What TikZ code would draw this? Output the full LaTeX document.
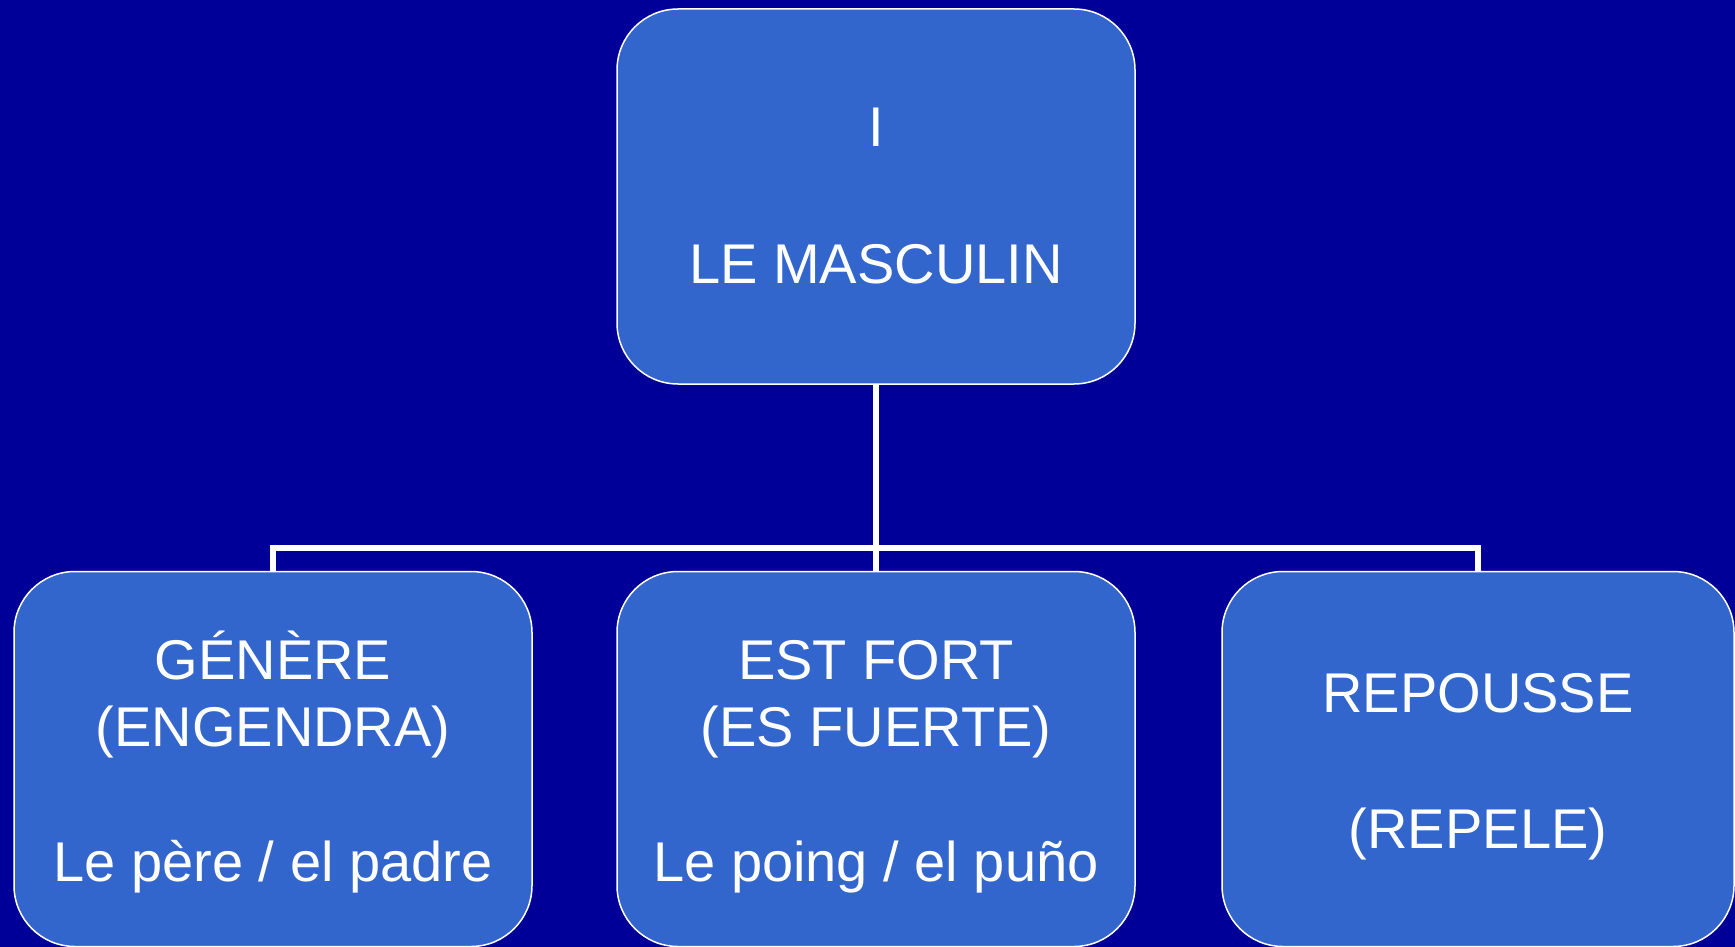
\documentclass[tikz,border=0pt]{standalone}
\usepackage{fontspec}
\setmainfont{Liberation Sans}
\definecolor{bgblue}{RGB}{0,0,153}
\definecolor{boxblue}{RGB}{51,102,204}
\newcommand{\toprule}{\rule{0pt}{54pt}}
\begin{document}
\begin{tikzpicture}[x=1pt,y=1pt,
  box/.style={draw=white, line width=1.5pt, fill=boxblue, rounded corners=61pt,
    minimum width=518pt, minimum height=375pt, inner sep=0pt, text=white,
    align=center, font=\fontsize{56}{67}\selectfont},
  rbox/.style={box, minimum width=512pt},
  conn/.style={draw=white, line width=6pt, line join=miter}]
\useasboundingbox (0,0) rectangle (1735,-947);
\fill[bgblue] (0,0) rectangle (1735,-947);
\node[box] (top) at (876,-196.5) {I\\[70pt]LE MASCULIN};
\node[box] (left) at (273,-759) {\toprule GÉNÈRE\\(ENGENDRA)\\[68pt]Le père / el padre};
\node[box] (mid) at (876,-759) {\toprule EST FORT\\(ES FUERTE)\\[68pt]Le poing / el puño};
\node[rbox] (right) at (1478,-759) {\toprule REPOUSSE\\[69pt](REPELE)};
\coordinate (j) at (876,-548);
\draw[conn] (top.south) -- (j);
\draw[conn] (left.north) |- (j) -| (right.north);
\draw[conn] (j) -- (mid.north);
\end{tikzpicture}
\end{document}
